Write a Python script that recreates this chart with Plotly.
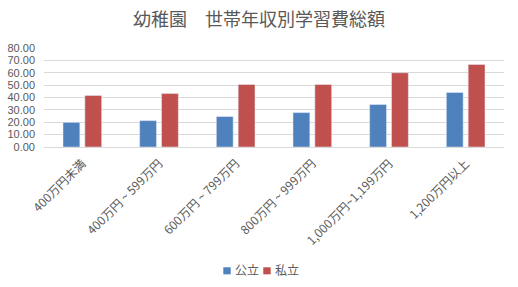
import plotly.graph_objects as go

categories = ["400万円未満", "400万円 ~ 599万円", "600万円 ~ 799万円", "800万円 ~ 999万円",
              "1,000万円~1,199万円", "1,200万円以上"]
public_vals = [19.9, 21.3, 24.6, 27.8, 34.3, 44.0]
private_vals = [41.6, 43.2, 50.5, 50.5, 60.0, 66.7]
series_names = ["公立", "私立"]
series_colors = ["#4f81bd", "#c0504d"]
title_text = "幼稚園　世帯年収別学習費総額"

font_fam = "Liberation Sans, Noto Sans CJK JP, sans-serif"
cjk = "Noto Sans CJK JP, sans-serif"

fig = go.Figure()
for name, vals, col in zip(series_names, [public_vals, private_vals], series_colors):
    fig.add_trace(go.Bar(x=categories, y=vals, name=name, marker_color=col))

# compact legend (Excel style): small square + label
legend_x = [0.3898, 0.4767]
for name, col, lx in zip(series_names, series_colors, legend_x):
    fig.add_shape(type="rect", xref="paper", yref="paper", x0=lx, x1=lx + 0.0161,
                  y0=-1.286, y1=-1.215, fillcolor=col, line_width=0)
    fig.add_annotation(text=name, xref="paper", yref="paper", x=lx + 0.0205, y=-1.237,
                       xanchor="left", yanchor="middle", showarrow=False,
                       font=dict(family=cjk, size=12, color="#595959"))

fig.update_layout(
    width=518, height=287,
    margin=dict(l=44, r=14, t=48, b=140),
    paper_bgcolor="white", plot_bgcolor="white",
    barmode="group", bargap=0.43, bargroupgap=0.23,
    title=dict(text=title_text, x=0.5, xanchor="center", y=1 - 20/287, yanchor="middle",
               yref="container", font=dict(family=cjk, size=18, color="#595959")),
    showlegend=False,
    font=dict(family=font_fam, color="#595959"),
)
fig.update_yaxes(range=[0, 80], dtick=10, tickformat=".2f", showgrid=True, gridcolor="#d9d9d9",
                 gridwidth=1, zeroline=False, showline=False, ticks="", ticklabelstandoff=8,
                 automargin=False,
                 tickfont=dict(family=font_fam, size=11, color="#595959"), fixedrange=True)
fig.update_xaxes(tickangle=-45, showline=True, linecolor="#d9d9d9", linewidth=1, ticks="",
                 automargin=False, ticklabelstandoff=4,
                 tickfont=dict(family=cjk, size=12, color="#595959"), fixedrange=True)

fig.write_html("out.html", config={"displayModeBar": False})
